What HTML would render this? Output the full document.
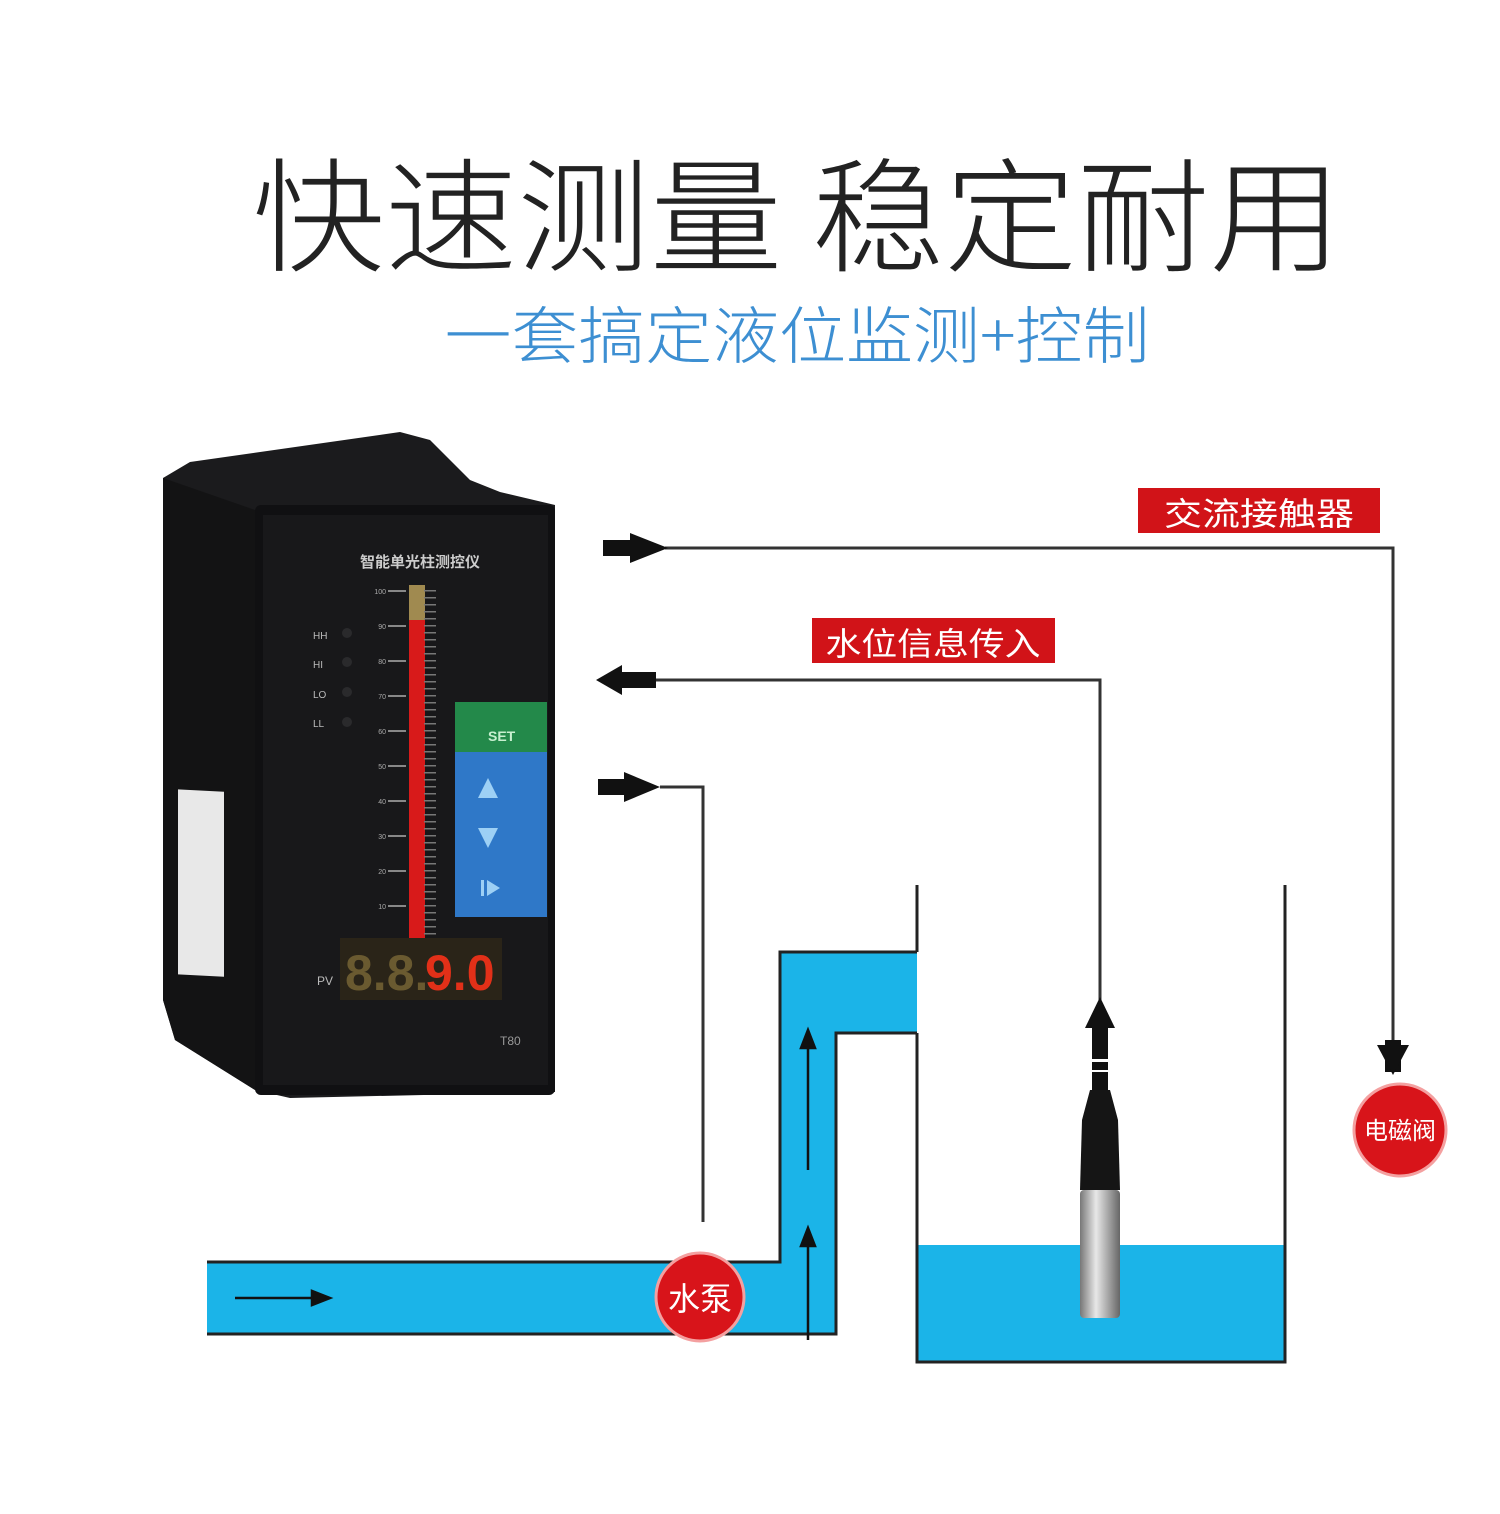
<!DOCTYPE html>
<html><head><meta charset="utf-8"><style>
html,body{margin:0;padding:0;background:#fff;}
svg{display:block;}
text{font-family:"Liberation Sans","Noto Sans CJK SC",sans-serif;}
</style></head><body>
<svg width="1500" height="1514" viewBox="0 0 1500 1514" xmlns="http://www.w3.org/2000/svg">
<rect width="1500" height="1514" fill="#fff"/>
<text x="797" y="262" text-anchor="middle" font-size="124" font-weight="300" fill="#222" style="font-family:'Noto Sans CJK SC',sans-serif;font-weight:300" textLength="1090" lengthAdjust="spacingAndGlyphs">快速测量 稳定耐用</text>
<text x="797" y="358" text-anchor="middle" font-size="62" fill="#3d8fd2" style="font-family:'Noto Sans CJK SC',sans-serif;font-weight:300" textLength="705" lengthAdjust="spacingAndGlyphs">一套搞定液位监测+控制</text>

<!-- device -->
<polygon points="163,478 190,462 400,432 430,440 470,480 500,492 555,505 555,1092 290,1098 255,1090 175,1040 163,1000" fill="#1b1b1d"/>
<polygon points="163,478 255,510 255,1090 175,1040 163,1000" fill="#131314"/>
<rect x="178" y="780" width="46" height="185" fill="#e8e8e8" transform="skewY(3)"/>
<rect x="255" y="505" width="300" height="590" rx="6" fill="#101012"/>
<rect x="263" y="515" width="285" height="570" fill="#18181a"/>
<text x="420" y="567" text-anchor="middle" font-size="15" fill="#ccc" font-weight="bold">智能单光柱测控仪</text>
<rect x="409" y="585" width="16" height="360" fill="#d81a1a"/>
<rect x="409" y="585" width="16" height="35" fill="#a08a50"/>
<g fill="#888">
<rect x="388" y="590" width="18" height="2"/><rect x="388" y="625" width="18" height="2"/><rect x="388" y="660" width="18" height="2"/><rect x="388" y="695" width="18" height="2"/><rect x="388" y="730" width="18" height="2"/><rect x="388" y="765" width="18" height="2"/><rect x="388" y="800" width="18" height="2"/><rect x="388" y="835" width="18" height="2"/><rect x="388" y="870" width="18" height="2"/><rect x="388" y="905" width="18" height="2"/><rect x="388" y="940" width="18" height="2"/>
</g>
<g stroke="#777" stroke-width="1.5" stroke-dasharray="1.5 5.5"><line x1="430" y1="590" x2="430" y2="942" stroke-width="12"/></g>
<g font-size="7" fill="#aaa" text-anchor="end">
<text x="386" y="594">100</text><text x="386" y="629">90</text><text x="386" y="664">80</text><text x="386" y="699">70</text><text x="386" y="734">60</text><text x="386" y="769">50</text><text x="386" y="804">40</text><text x="386" y="839">30</text><text x="386" y="874">20</text><text x="386" y="909">10</text><text x="386" y="944">0</text>
</g>
<g font-size="10" fill="#bbb"><text x="313" y="639">HH</text><text x="313" y="668">HI</text><text x="313" y="698">LO</text><text x="313" y="727">LL</text></g>
<g fill="#2a2a2c"><circle cx="347" cy="633" r="5"/><circle cx="347" cy="662" r="5"/><circle cx="347" cy="692" r="5"/><circle cx="347" cy="722" r="5"/></g>
<rect x="455" y="702" width="92" height="50" fill="#23894a"/>
<text x="488" y="741" font-size="14" font-weight="bold" fill="#c8f0d0">SET</text>
<rect x="455" y="752" width="92" height="165" fill="#2f78c8"/>
<polygon points="488,778 478,798 498,798" fill="#9dd0f5"/>
<polygon points="478,828 498,828 488,848" fill="#9dd0f5"/>
<rect x="481" y="880" width="3" height="16" fill="#9dd0f5"/><polygon points="487,880 500,888 487,896" fill="#9dd0f5"/>
<text x="317" y="985" font-size="12" fill="#bbb">PV</text>
<rect x="340" y="938" width="162" height="62" fill="#2a2418"/>
<g font-size="50" font-family="Liberation Mono,monospace" font-weight="bold"><text x="345" y="990" fill="#6a5a30">8.8.</text><text x="425" y="990" fill="#e23018">9.0</text></g>
<text x="500" y="1045" font-size="12" fill="#999">T80</text>

<!-- wires -->
<g fill="none" stroke="#333" stroke-width="3">
<polyline points="665,548 1393,548 1393,1042"/>
<polyline points="655,680 1100,680 1100,1000"/>
<polyline points="660,787 703,787 703,1222"/>
</g>
<g fill="#111">
<rect x="603" y="540" width="30" height="16"/><polygon points="630,533 668,548 630,563"/>
<rect x="620" y="672" width="36" height="16"/><polygon points="622,665 596,680 622,695"/>
<rect x="598" y="779" width="28" height="16"/><polygon points="624,772 660,787 624,802"/>
<rect x="1385" y="1040" width="16" height="32"/><polygon points="1377,1045 1409,1045 1393,1075"/>
<rect x="1092" y="1025" width="16" height="34"/><polygon points="1085,1028 1115,1028 1100,997"/>
<rect x="1092" y="1062" width="16" height="8"/>
</g>
<rect x="1138" y="488" width="242" height="45" fill="#d11318"/>
<text x="1259" y="525" text-anchor="middle" font-size="32" fill="#fff" textLength="190" lengthAdjust="spacingAndGlyphs">交流接触器</text>
<rect x="812" y="618" width="243" height="45" fill="#d11318"/>
<text x="933" y="655" text-anchor="middle" font-size="32" fill="#fff" textLength="215" lengthAdjust="spacingAndGlyphs">水位信息传入</text>

<!-- pipes -->
<polygon points="207,1262 780,1262 780,952 917,952 917,1033 836,1033 836,1334 207,1334" fill="#1bb4e8"/>
<polyline points="207,1262 780,1262 780,952 917,952" fill="none" stroke="#222" stroke-width="3"/>
<polyline points="207,1334 836,1334 836,1033 917,1033" fill="none" stroke="#222" stroke-width="3"/>
<rect x="917" y="1245" width="368" height="117" fill="#1bb4e8"/>
<polyline points="917,885 917,952" fill="none" stroke="#222" stroke-width="3"/>
<polyline points="917,1033 917,1362 1285,1362 1285,885" fill="none" stroke="#222" stroke-width="3"/>
<g stroke="#111" stroke-width="2.5" fill="#111">
<line x1="235" y1="1298" x2="320" y2="1298"/><polygon points="330,1298 312,1291 312,1305"/>
<line x1="808" y1="1340" x2="808" y2="1240"/><polygon points="808,1228 801,1246 815,1246"/>
<line x1="808" y1="1170" x2="808" y2="1040"/><polygon points="808,1030 801,1048 815,1048"/>
</g>
<!-- probe -->
<defs><linearGradient id="st" x1="0" x2="1"><stop offset="0" stop-color="#777"/><stop offset="0.4" stop-color="#e8e8e8"/><stop offset="1" stop-color="#666"/></linearGradient></defs>
<rect x="1092" y="1072" width="16" height="18" fill="#111"/>
<path d="M1090,1090 L1110,1090 L1118,1120 L1120,1190 L1080,1190 L1082,1120 Z" fill="#151515"/>
<rect x="1080" y="1190" width="40" height="128" rx="4" fill="url(#st)"/>
<!-- circles -->
<circle cx="700" cy="1297" r="44" fill="#d8141a" stroke="#f4a0a0" stroke-width="3"/>
<text x="700" y="1310" text-anchor="middle" font-size="32" fill="#fff">水泵</text>
<circle cx="1400" cy="1130" r="46" fill="#d8141a" stroke="#f4a0a0" stroke-width="3"/>
<text x="1400" y="1139" text-anchor="middle" font-size="24" fill="#fff">电磁阀</text>
</svg>
</body></html>
